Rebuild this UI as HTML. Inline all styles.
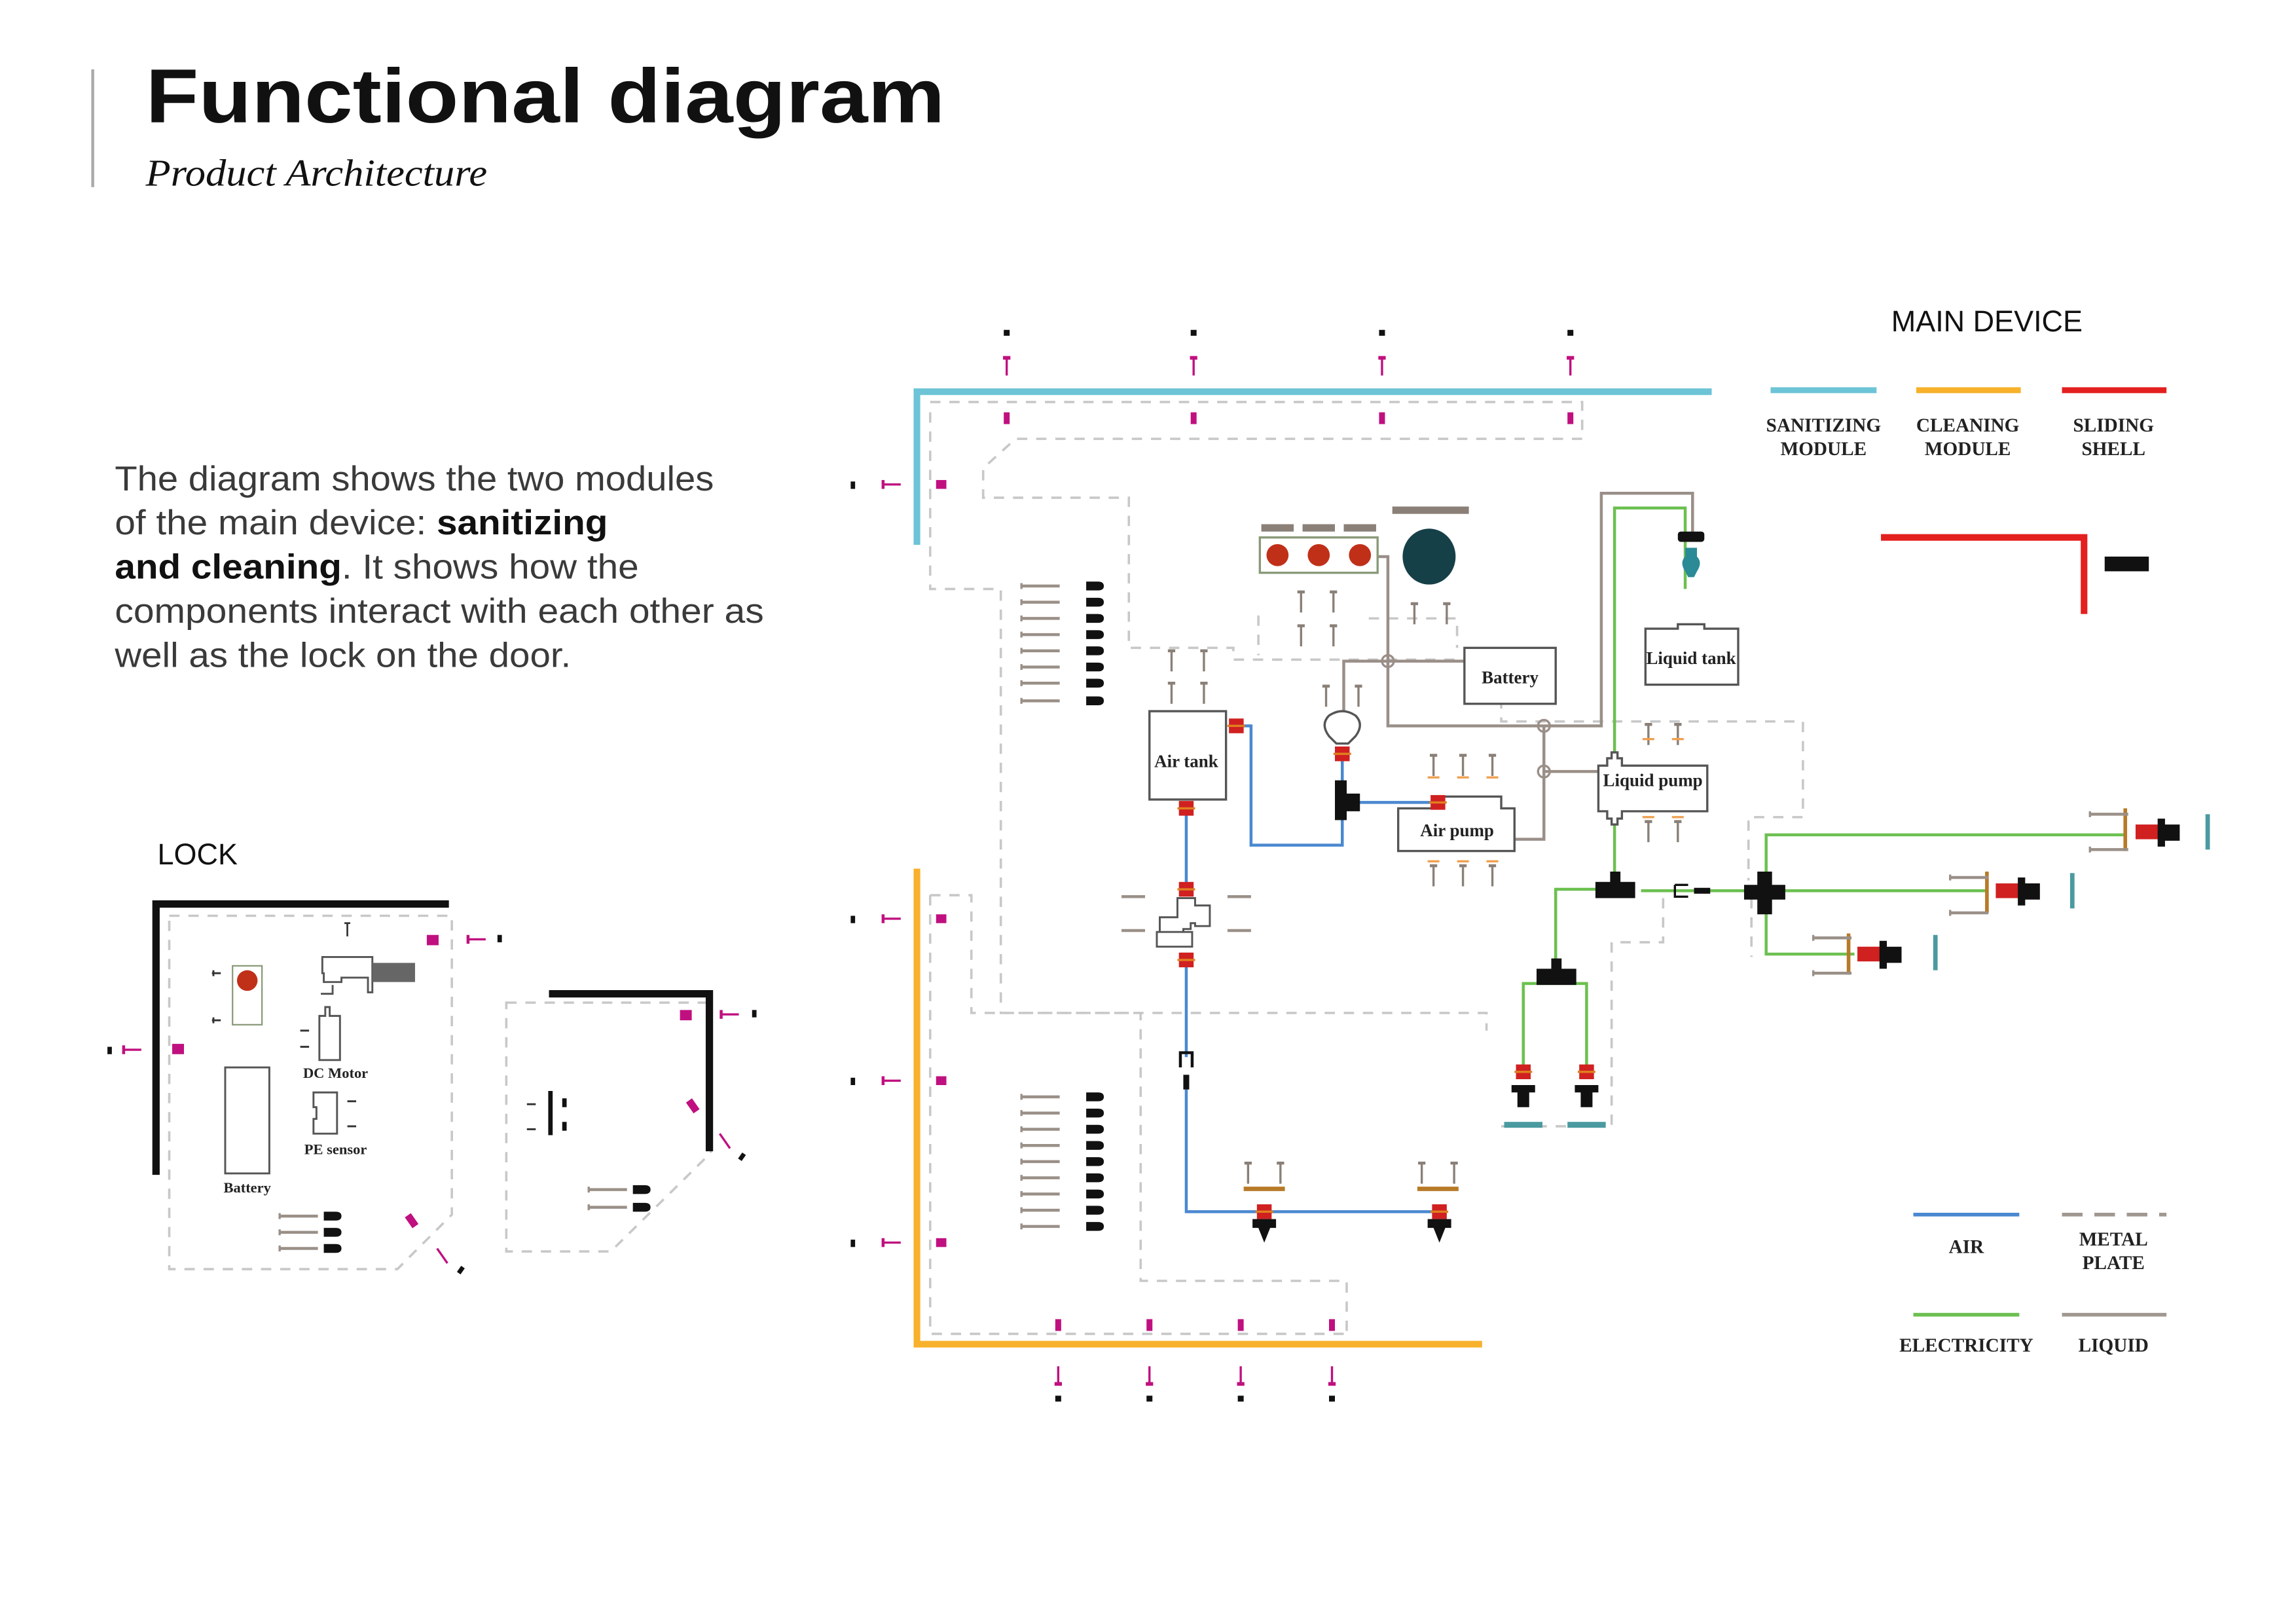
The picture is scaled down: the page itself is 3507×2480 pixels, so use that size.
<!DOCTYPE html>
<html><head><meta charset="utf-8"><style>
html,body{margin:0;padding:0;background:#fff;}
svg{display:block}
.t{font-family:"Liberation Serif",serif;font-weight:bold;fill:#222}
</style></head><body>
<svg width="3507" height="2480" viewBox="0 0 1560 1103" xmlns="http://www.w3.org/2000/svg">
<defs>
<g id="scrV"><line x1="0" y1="0" x2="0" y2="14" stroke="#8a8078" stroke-width="1.5"/><line x1="-2.5" y1="0" x2="2.5" y2="0" stroke="#8a8078" stroke-width="2"/></g>
<g id="scrH"><line x1="0" y1="0" x2="26" y2="0" stroke="#9a9088" stroke-width="2"/><line x1="0" y1="-2" x2="0" y2="2" stroke="#9a9088" stroke-width="1.5"/></g>
<g id="nut"><path d="M0,-3 h8 q4,0 4,3 q0,3 -4,3 h-8z" fill="#111"/></g>
<g id="pinV"><line x1="0" y1="0" x2="0" y2="12" stroke="#c0107f" stroke-width="1.5"/><line x1="-2.5" y1="0" x2="2.5" y2="0" stroke="#c0107f" stroke-width="2.5"/></g>
<g id="pinH"><line x1="0" y1="0" x2="12" y2="0" stroke="#c0107f" stroke-width="1.5"/><line x1="0" y1="-3" x2="0" y2="3" stroke="#c0107f" stroke-width="2"/></g>
<g id="valve"><rect x="-5" y="-5" width="10" height="10" fill="#d02020"/><line x1="-6" y1="0" x2="6" y2="0" stroke="#e08020" stroke-width="1.5"/></g>
<g id="nozzle"><path d="M-8,0 h16 v5 h-4 v10 h-8 v-10 h-4z" fill="#111"/></g>
</defs>

<!-- Header -->
<line x1="63" y1="47" x2="63" y2="127" stroke="#aaa" stroke-width="2"/>
<text x="99" y="83" font-family="Liberation Sans,sans-serif" font-weight="bold" font-size="52" fill="#111" textLength="543" lengthAdjust="spacingAndGlyphs">Functional diagram</text>
<text x="99" y="126" font-family="Liberation Serif,serif" font-style="italic" font-size="26" fill="#111" textLength="232" lengthAdjust="spacingAndGlyphs">Product Architecture</text>

<g font-family="Liberation Sans,sans-serif" font-size="23.5" fill="#3a3a3a">
<text x="78" y="333" textLength="407" lengthAdjust="spacingAndGlyphs">The diagram shows the two modules</text>
<text x="78" y="363" textLength="335" lengthAdjust="spacingAndGlyphs">of the main device: <tspan font-weight="bold" fill="#111">sanitizing</tspan></text>
<text x="78" y="393" textLength="356" lengthAdjust="spacingAndGlyphs"><tspan font-weight="bold" fill="#111">and cleaning</tspan>. It shows how the</text>
<text x="78" y="423" textLength="441" lengthAdjust="spacingAndGlyphs">components interact with each other as</text>
<text x="78" y="453" textLength="310" lengthAdjust="spacingAndGlyphs">well as the lock on the door.</text>
</g>
<text x="107" y="587" font-family="Liberation Sans,sans-serif" font-size="20" fill="#111">LOCK</text>
<text x="1285" y="225" font-family="Liberation Sans,sans-serif" font-size="20" fill="#111">MAIN DEVICE</text>

<!-- Legend top -->
<line x1="1203" y1="265" x2="1275" y2="265" stroke="#6cc4d6" stroke-width="4"/>
<line x1="1302" y1="265" x2="1373" y2="265" stroke="#f7b12a" stroke-width="4"/>
<line x1="1401" y1="265" x2="1472" y2="265" stroke="#e3201f" stroke-width="4"/>
<g class="t" font-size="13" text-anchor="middle">
<text x="1239" y="293">SANITIZING</text><text x="1239" y="309">MODULE</text>
<text x="1337" y="293">CLEANING</text><text x="1337" y="309">MODULE</text>
<text x="1436" y="293">SLIDING</text><text x="1436" y="309">SHELL</text>
</g>
<polyline points="1278,365 1416,365 1416,417" fill="none" stroke="#e3201f" stroke-width="4.5"/>
<rect x="1430" y="378" width="30" height="10" fill="#111"/>

<!-- Legend bottom -->
<line x1="1300" y1="825" x2="1372" y2="825" stroke="#4a88d0" stroke-width="2.5"/>
<line x1="1401" y1="825" x2="1472" y2="825" stroke="#a09890" stroke-width="2.5" stroke-dasharray="14,8"/>
<line x1="1300" y1="893" x2="1372" y2="893" stroke="#6cc050" stroke-width="2.5"/>
<line x1="1401" y1="893" x2="1472" y2="893" stroke="#a09890" stroke-width="2.5"/>
<g class="t" font-size="13" text-anchor="middle">
<text x="1336" y="851">AIR</text>
<text x="1436" y="846">METAL</text><text x="1436" y="862">PLATE</text>
<text x="1336" y="918">ELECTRICITY</text>
<text x="1436" y="918">LIQUID</text>
</g>

<!-- Module L shapes -->
<polyline points="623,370 623,266 1163,266" fill="none" stroke="#6cc4d6" stroke-width="4.5"/>
<polyline points="623,590 623,913 1007,913" fill="none" stroke="#f7b12a" stroke-width="4.5"/>

<!-- dashed metal plates -->
<g fill="none" stroke="#c8c8c8" stroke-width="1.6" stroke-dasharray="7,6">
<path d="M632,273 H1075 V298 H690 L668,318 V338 H767 V440 H838 V448 H1020 V490 H1225 V555 H1188 V598"/>
<path d="M632,280 V400 H680 V688 H1010 V700"/>
<path d="M632,608 H660 V688 H775 V870 H915 V905"/>
<path d="M632,608 V906 H915"/>
<path d="M855,418 V445 M930,420 H990 V440"/>
<path d="M1130,610 V640 H1095 V765 H1020"/>
<path d="M1190,610 V650"/>
<path d="M115,622 H307 V825 L270,862 H115 Z"/>
<path d="M344,681 H483 V783 L415,850 H344 Z"/>
</g>

<!-- top pins and dots -->
<g>
<rect x="682" y="224" width="4" height="4" fill="#111"/><rect x="809" y="224" width="4" height="4" fill="#111"/><rect x="937" y="224" width="4" height="4" fill="#111"/><rect x="1065" y="224" width="4" height="4" fill="#111"/>
<use href="#pinV" x="684" y="243"/><use href="#pinV" x="811" y="243"/><use href="#pinV" x="939" y="243"/><use href="#pinV" x="1067" y="243"/>
<rect x="682" y="280" width="4" height="8" fill="#c0107f"/><rect x="809" y="280" width="4" height="8" fill="#c0107f"/><rect x="937" y="280" width="4" height="8" fill="#c0107f"/><rect x="1065" y="280" width="4" height="8" fill="#c0107f"/>
<rect x="578" y="327" width="3" height="5" fill="#111"/><use href="#pinH" x="600" y="329"/><rect x="636" y="326" width="7" height="6" fill="#c0107f"/>
<rect x="578" y="622" width="3" height="5" fill="#111"/><use href="#pinH" x="600" y="624"/><rect x="636" y="621" width="7" height="6" fill="#c0107f"/>
<rect x="578" y="732" width="3" height="5" fill="#111"/><use href="#pinH" x="600" y="734"/><rect x="636" y="731" width="7" height="6" fill="#c0107f"/>
<rect x="578" y="842" width="3" height="5" fill="#111"/><use href="#pinH" x="600" y="844"/><rect x="636" y="841" width="7" height="6" fill="#c0107f"/>
<rect x="717" y="896" width="4" height="8" fill="#c0107f"/><rect x="779" y="896" width="4" height="8" fill="#c0107f"/><rect x="841" y="896" width="4" height="8" fill="#c0107f"/><rect x="903" y="896" width="4" height="8" fill="#c0107f"/>
<g transform="translate(719,940) scale(1,-1)"><use href="#pinV"/></g><g transform="translate(781,940) scale(1,-1)"><use href="#pinV"/></g><g transform="translate(843,940) scale(1,-1)"><use href="#pinV"/></g><g transform="translate(905,940) scale(1,-1)"><use href="#pinV"/></g>
<rect x="717" y="948" width="4" height="4" fill="#111"/><rect x="779" y="948" width="4" height="4" fill="#111"/><rect x="841" y="948" width="4" height="4" fill="#111"/><rect x="903" y="948" width="4" height="4" fill="#111"/>
</g>

<!-- screw stacks -->
<g>
<use href="#scrH" x="694" y="398"/><use href="#scrH" x="694" y="409"/><use href="#scrH" x="694" y="420"/><use href="#scrH" x="694" y="431"/><use href="#scrH" x="694" y="442"/><use href="#scrH" x="694" y="453"/><use href="#scrH" x="694" y="464"/><use href="#scrH" x="694" y="476"/>
<use href="#nut" x="738" y="398"/><use href="#nut" x="738" y="409"/><use href="#nut" x="738" y="420"/><use href="#nut" x="738" y="431"/><use href="#nut" x="738" y="442"/><use href="#nut" x="738" y="453"/><use href="#nut" x="738" y="464"/><use href="#nut" x="738" y="476"/>
<use href="#scrH" x="694" y="745"/><use href="#scrH" x="694" y="756"/><use href="#scrH" x="694" y="767"/><use href="#scrH" x="694" y="778"/><use href="#scrH" x="694" y="789"/><use href="#scrH" x="694" y="800"/><use href="#scrH" x="694" y="811"/><use href="#scrH" x="694" y="822"/><use href="#scrH" x="694" y="833"/>
<use href="#nut" x="738" y="745"/><use href="#nut" x="738" y="756"/><use href="#nut" x="738" y="767"/><use href="#nut" x="738" y="778"/><use href="#nut" x="738" y="789"/><use href="#nut" x="738" y="800"/><use href="#nut" x="738" y="811"/><use href="#nut" x="738" y="822"/><use href="#nut" x="738" y="833"/>
</g>

<!-- liquid (gray) lines -->
<g fill="none" stroke="#9a8f88" stroke-width="2">
<path d="M936,378 H943 V493 H1088 V335 H1150 V365"/>
<path d="M913,483 V449 H995"/>
<path d="M1029,570 H1049 V524 H1087"/>
<path d="M1049,493 V524"/>
</g>
<circle cx="943" cy="449" r="4" fill="none" stroke="#9a8f88" stroke-width="1.5"/>
<circle cx="1049" cy="493" r="4" fill="none" stroke="#9a8f88" stroke-width="1.5"/>
<circle cx="1049" cy="524" r="4" fill="none" stroke="#9a8f88" stroke-width="1.5"/>

<!-- LED box & fan -->
<rect x="856" y="365" width="80" height="24" fill="#fff" stroke="#8a9a78" stroke-width="1.5"/>
<circle cx="868" cy="377" r="7.5" fill="#c03018"/><circle cx="896" cy="377" r="7.5" fill="#c03018"/><circle cx="924" cy="377" r="7.5" fill="#c03018"/>
<rect x="857" y="356" width="22" height="5" fill="#8a8078"/><rect x="885" y="356" width="22" height="5" fill="#8a8078"/><rect x="913" y="356" width="22" height="5" fill="#8a8078"/>
<rect x="946" y="344" width="52" height="5" fill="#8a8078"/>
<ellipse cx="971" cy="378" rx="18" ry="19" fill="#164048"/>
<use href="#scrV" x="884" y="402"/><use href="#scrV" x="906" y="402"/><use href="#scrV" x="884" y="425"/><use href="#scrV" x="906" y="425"/>
<use href="#scrV" x="961" y="410"/><use href="#scrV" x="983" y="410"/>

<!-- Battery, Liquid tank -->
<rect x="995" y="440" width="62" height="38" fill="#fff" stroke="#555" stroke-width="1.5"/>
<text x="1026" y="464" class="t" font-size="12" text-anchor="middle">Battery</text>
<path d="M1118,427 H1140 V424 H1158 V427 H1181 V465 H1118 Z" fill="#fff" stroke="#555" stroke-width="1.5"/>
<text x="1149" y="451" class="t" font-size="12" text-anchor="middle">Liquid tank</text>

<!-- Green electricity lines -->
<g fill="none" stroke="#6cc050" stroke-width="2">
<path d="M1097,520 V345 H1145 V400"/>
<path d="M1097,555 V604 H1057 V658"/>
<path d="M1035,728 V668 H1078 V728"/>
<path d="M1115,605 H1200 M1200,605 V567 H1445 M1200,605 H1350 M1200,605 V648 H1260"/>
</g>
<rect x="1140" y="361" width="18" height="7" rx="2" fill="#111"/>
<path d="M1145,372 h8 v6 q4,4 0,10 l-2,4 h-4 l-2,-4 q-4,-6 0,-10z" fill="#2a8a96"/>

<!-- Liquid pump -->
<path d="M1092,520 v-5 h3 v-4 h4 v4 h3 v5 h58 v31 h-58 v5 h-3 v4 h-4 v-4 h-3 v-5 h-6 v-31z" fill="#fff" stroke="#555" stroke-width="1.5"/>
<text x="1123" y="534" class="t" font-size="12" text-anchor="middle">Liquid pump</text>
<use href="#scrV" x="1120" y="492"/><use href="#scrV" x="1140" y="492"/><line x1="1116" y1="502" x2="1124" y2="502" stroke="#f0a050" stroke-width="1.5"/><line x1="1136" y1="502" x2="1144" y2="502" stroke="#f0a050" stroke-width="1.5"/>
<use href="#scrV" x="1120" y="558"/><use href="#scrV" x="1140" y="558"/><line x1="1116" y1="555" x2="1124" y2="555" stroke="#f0a050" stroke-width="1.5"/><line x1="1136" y1="555" x2="1144" y2="555" stroke="#f0a050" stroke-width="1.5"/>

<!-- T junctions -->
<path d="M1084,599 h10 v-7 h7 v7 h10 v11 h-27z" fill="#111"/>
<path d="M1044,658 h10 v-7 h7 v7 h10 v11 h-27z" fill="#111"/>
<path d="M1138,601 h9 M1138,601 v8 h9" fill="none" stroke="#111" stroke-width="1.5"/><rect x="1151" y="603" width="11" height="4" fill="#111"/>
<path d="M1194,592 h10 v9 h9 v10 h-9 v10 h-10 v-10 h-9 v-10 h9z" fill="#111"/>

<!-- bottom cleaning nozzles -->
<use href="#valve" x="1035" y="728"/><use href="#valve" x="1078" y="728"/>
<use href="#nozzle" x="1035" y="737"/><use href="#nozzle" x="1078" y="737"/>
<rect x="1022" y="762" width="26" height="4" fill="#4a9aa0"/><rect x="1065" y="762" width="26" height="4" fill="#4a9aa0"/>

<!-- right sprayers -->
<g>
<line x1="1444" y1="549" x2="1444" y2="578" stroke="#b87a28" stroke-width="2.5"/>
<rect x="1451" y="560" width="16" height="10" fill="#d02020"/><path d="M1466,556 h5 v4 h10 v11 h-10 v4 h-5z" fill="#111"/>
<path d="M1500,553 v24" stroke="#4a9aa0" stroke-width="3"/>
<use href="#scrH" x="1420" y="553"/><use href="#scrH" x="1420" y="577"/>
<line x1="1350" y1="592" x2="1350" y2="620" stroke="#b87a28" stroke-width="2.5"/>
<rect x="1356" y="600" width="16" height="10" fill="#d02020"/><path d="M1371,596 h5 v4 h10 v11 h-10 v4 h-5z" fill="#111"/>
<path d="M1408,593 v24" stroke="#4a9aa0" stroke-width="3"/>
<use href="#scrH" x="1325" y="596"/><use href="#scrH" x="1325" y="620"/>
<line x1="1256" y1="634" x2="1256" y2="662" stroke="#b87a28" stroke-width="2.5"/>
<rect x="1262" y="643" width="16" height="10" fill="#d02020"/><path d="M1277,639 h5 v4 h10 v11 h-10 v4 h-5z" fill="#111"/>
<path d="M1315,635 v24" stroke="#4a9aa0" stroke-width="3"/>
<use href="#scrH" x="1232" y="637"/><use href="#scrH" x="1232" y="661"/>
</g>

<!-- Air lines (blue) -->
<g fill="none" stroke="#4a88d0" stroke-width="2">
<path d="M844,493 H850 V574 H912 V555"/>
<path d="M912,515 V532"/>
<path d="M922,545 H975"/>
<path d="M806,545 V600 M806,655 V718 M806,740 V823 H978"/>
</g>
<path d="M781,483 h52 v60 h-52z" fill="#fff" stroke="#555" stroke-width="1.5"/>
<text x="806" y="521" class="t" font-size="12" text-anchor="middle">Air tank</text>
<use href="#valve" x="840" y="493"/><use href="#valve" x="806" y="549"/>
<use href="#scrV" x="796" y="442"/><use href="#scrV" x="818" y="442"/><use href="#scrV" x="796" y="464"/><use href="#scrV" x="818" y="464"/>
<path d="M903,486 q9,-6 18,0 q6,6 0,14 l-5,5 h-8 l-5,-5 q-6,-8 0,-14z" fill="#fff" stroke="#555" stroke-width="1.5"/>
<use href="#valve" x="912" y="512"/>
<use href="#scrV" x="901" y="466"/><use href="#scrV" x="923" y="466"/>
<path d="M907,530 h8 v9 h9 v12 h-9 v6 h-8z" fill="#111"/>
<path d="M950,549 h30 v-8 h40 v8 h9 v29 h-79z" fill="#fff" stroke="#555" stroke-width="1.5"/>
<text x="990" y="568" class="t" font-size="12" text-anchor="middle">Air pump</text>
<use href="#valve" x="977" y="545"/>
<use href="#scrV" x="974" y="513"/><use href="#scrV" x="994" y="513"/><use href="#scrV" x="1014" y="513"/>
<use href="#scrV" x="974" y="588"/><use href="#scrV" x="994" y="588"/><use href="#scrV" x="1014" y="588"/>
<g stroke="#f0a050" stroke-width="1.5"><line x1="970" y1="528" x2="978" y2="528"/><line x1="990" y1="528" x2="998" y2="528"/><line x1="1010" y1="528" x2="1018" y2="528"/><line x1="970" y1="585" x2="978" y2="585"/><line x1="990" y1="585" x2="998" y2="585"/><line x1="1010" y1="585" x2="1018" y2="585"/></g>
<path d="M800,610 h12 v5 h10 v14 h-10 v-2 h-3 v4 h-5 v2 h-16 v-10 h12z M786,633 h24 v10 h-24z" fill="#fff" stroke="#555" stroke-width="1.3"/>
<use href="#valve" x="806" y="604"/><use href="#valve" x="806" y="652"/>
<g stroke="#9a9088" stroke-width="2"><line x1="762" y1="609" x2="778" y2="609"/><line x1="762" y1="632" x2="778" y2="632"/><line x1="834" y1="609" x2="850" y2="609"/><line x1="834" y1="632" x2="850" y2="632"/></g>
<path d="M802,725 v-10 h8 v10" fill="none" stroke="#111" stroke-width="2"/><rect x="804" y="730" width="4" height="10" fill="#111"/>
<use href="#scrV" x="848" y="790"/><use href="#scrV" x="870" y="790"/><rect x="845" y="806" width="28" height="3" fill="#b87a28"/>
<use href="#scrV" x="966" y="790"/><use href="#scrV" x="988" y="790"/><rect x="963" y="806" width="28" height="3" fill="#b87a28"/>
<use href="#valve" x="859" y="823"/><use href="#valve" x="978" y="823"/>
<path d="M851,828 h16 v6 h-4 l-4,10 l-4,-10 h-4z" fill="#111"/>
<path d="M970,828 h16 v6 h-4 l-4,10 l-4,-10 h-4z" fill="#111"/>

<!-- LOCK -->
<polyline points="106,798 106,614 305,614" fill="none" stroke="#111" stroke-width="5"/>
<polyline points="373,675 482,675 482,782" fill="none" stroke="#111" stroke-width="5"/>
<rect x="158" y="656" width="20" height="40" fill="#fff" stroke="#8a9a78" stroke-width="1"/>
<circle cx="168" cy="666" r="7" fill="#c03018"/>
<g stroke="#333" stroke-width="1.3"><line x1="144" y1="661" x2="150" y2="661"/><line x1="145" y1="659" x2="145" y2="663"/><line x1="144" y1="693" x2="150" y2="693"/><line x1="145" y1="691" x2="145" y2="695"/></g>
<rect x="153" y="725" width="30" height="72" fill="#fff" stroke="#555" stroke-width="1.3"/>
<text x="168" y="810" class="t" font-size="10" text-anchor="middle">Battery</text>
<path d="M219,650 h34 v24 h-3 v-10 h-18 v3 h-12 v-6 h-1z" fill="#fff" stroke="#555" stroke-width="1.3"/>
<rect x="253" y="654" width="29" height="13" fill="#666"/>
<path d="M218,675 h8 v-6" fill="none" stroke="#555" stroke-width="1.3"/>
<line x1="236" y1="627" x2="236" y2="636" stroke="#333" stroke-width="1.2"/><line x1="234" y1="627" x2="238" y2="627" stroke="#333" stroke-width="1.2"/>
<path d="M217,690 h4 v-6 h3 v6 h7 v30 h-14z" fill="#fff" stroke="#555" stroke-width="1.3"/>
<text x="228" y="732" class="t" font-size="10" text-anchor="middle">DC Motor</text>
<path d="M213,742 h16 v28 h-16 v-10 h2 v-8 h-2z" fill="#fff" stroke="#555" stroke-width="1.3"/>
<text x="228" y="784" class="t" font-size="10" text-anchor="middle">PE sensor</text>
<g stroke="#333" stroke-width="1.3"><line x1="204" y1="700" x2="210" y2="700"/><line x1="204" y1="711" x2="210" y2="711"/><line x1="236" y1="748" x2="242" y2="748"/><line x1="236" y1="765" x2="242" y2="765"/><line x1="358" y1="750" x2="364" y2="750"/><line x1="358" y1="767" x2="364" y2="767"/></g>
<line x1="374" y1="741" x2="374" y2="771" stroke="#111" stroke-width="3"/>
<rect x="382" y="746" width="3" height="6" fill="#111"/><rect x="382" y="762" width="3" height="6" fill="#111"/>
<use href="#scrH" x="190" y="826"/><use href="#scrH" x="190" y="837"/><use href="#scrH" x="190" y="848"/>
<use href="#nut" x="220" y="826"/><use href="#nut" x="220" y="837"/><use href="#nut" x="220" y="848"/>
<use href="#scrH" x="400" y="808"/><use href="#scrH" x="400" y="820"/>
<use href="#nut" x="430" y="808"/><use href="#nut" x="430" y="820"/>
<rect x="73" y="711" width="3" height="5" fill="#111"/><use href="#pinH" x="84" y="713"/><rect x="117" y="709" width="8" height="7" fill="#c0107f"/>
<rect x="290" y="635" width="8" height="7" fill="#c0107f"/><use href="#pinH" x="318" y="638"/><rect x="338" y="635" width="3" height="5" fill="#111"/>
<rect x="462" y="686" width="8" height="7" fill="#c0107f"/><use href="#pinH" x="490" y="689"/><rect x="511" y="686" width="3" height="5" fill="#111"/>
<rect x="468" y="747" width="5" height="9" fill="#c0107f" transform="rotate(-35 470 751)"/>
<line x1="489" y1="770" x2="496" y2="780" stroke="#c0107f" stroke-width="1.5"/><rect x="503" y="783" width="3" height="5" fill="#111" transform="rotate(35 504 785)"/>
<rect x="277" y="825" width="5" height="9" fill="#c0107f" transform="rotate(-35 279 829)"/>
<line x1="297" y1="848" x2="304" y2="858" stroke="#c0107f" stroke-width="1.5"/><rect x="312" y="860" width="3" height="5" fill="#111" transform="rotate(35 313 862)"/>
</svg>
</body></html>
